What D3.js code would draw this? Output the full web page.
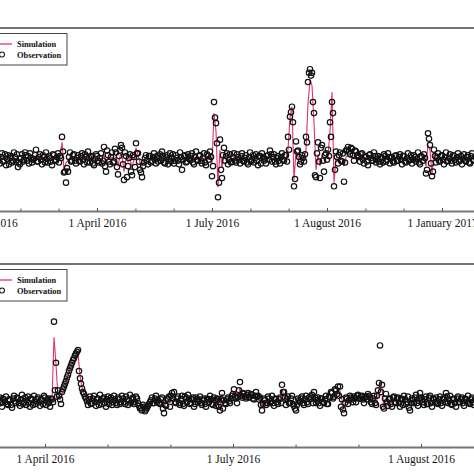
<!DOCTYPE html>
<html><head><meta charset="utf-8">
<script src="https://cdn.jsdelivr.net/npm/d3@7"></script>
<style>html,body{margin:0;padding:0;background:#fff;overflow:hidden}</style>
</head><body><svg id="c" width="474" height="474"></svg>
<script>
// ---- data (time index 0..239; "b" arrays are the half-step readings) ----
const obs1 = [
 3,-5,6,-2,-7,4,1,-4,7,-3,-9,-6,5,-1,4,3,6,-4,0,10,
 -3,5,-6,2,7,-4,1,-7,4,-2,6,3,24,-15,-26,-14,7,-2,5,-5,
 4,-3,6,-6,2,8,-4,3,-7,5,-2,1,-5,13,-14,4,-6,7,-3,7,
 -17,9,12,-23,3,-8,5,-18,2,17,6,-12,-20,-4,4,-6,3,-2,6,-5,
 -3,5,8,-4,2,-6,6,1,-5,4,-2,7,-12,3,-4,5,-1,6,-6,8,
 -2,4,-5,6,-7,3,8,-19,62,39,-42,21,-21,12,3,-6,5,-3,6,-4,
 2,-5,6,-3,4,-6,7,-1,-4,5,-7,3,6,-2,-5,4,9,-3,5,-6,
 3,-5,6,-2,4,24,46,57,-30,19,9,-6,4,-3,24,84,98,94,50,-20,
 18,-21,15,-14,6,10,40,62,-30,8,-5,7,-3,-25,9,13,5,11,-2,8,
 4,-3,6,-5,2,-7,5,-2,7,-4,3,-6,1,5,-3,6,-5,2,-4,4,
 -2,5,-6,3,-4,6,-1,-5,4,-3,7,-6,2,5,-16,28,15,-19,10,-4,
 6,-3,4,-6,7,-2,5,-5,3,-4,6,-1,-6,5,-3,4,-5,6,-2,3
];
const obs1b = [
 -1,2,-3,5,0,-6,3,-2,2,5,-4,1,-3,7,-2,-5,1,-1,4,-3,
 2,-1,4,-4,0,3,-3,5,-1,2,-4,1,8,-14,-10,2,-3,4,-2,1,
 -2,3,-1,5,-4,1,2,-5,0,3,-4,6,-2,-8,9,-3,2,-4,11,-9,
 3,15,-6,7,-20,1,-14,4,-9,6,-3,-15,-8,1,-2,3,-4,2,-1,3,
 1,-2,3,-5,4,0,-3,5,-2,1,-6,2,-1,4,-3,0,3,-4,2,-1,
 3,-2,1,-4,5,-1,2,-8,45,17,-26,-12,4,-2,6,-1,-4,2,-2,5,
 -1,3,-2,1,-4,2,-3,4,1,-2,3,-5,2,0,3,-1,5,2,-3,1,
 -2,2,-1,4,-3,10,51,40,-22,8,2,-3,1,5,18,94,91,62,-18,6,
 -3,12,-2,4,-1,3,24,50,-12,2,4,-2,6,-4,10,8,12,4,9,3,
 2,5,-1,3,-3,4,1,-2,3,0,-3,2,-4,3,-1,2,1,-3,3,-2,
 2,-1,3,-3,1,-2,4,-1,2,0,-4,3,-2,1,-12,22,-5,-14,3,1,
 -2,3,-1,2,-3,1,-2,4,-1,2,-3,3,0,-2,2,-4,3,-1,2,-2
];
const sim1 = [
 1,0,1,-1,-1,0,1,0,1,-1,-2,-1,0,0,1,1,1,0,0,2,
 1,0,-1,0,1,0,0,-1,0,0,1,2,18,-12,-4,-2,2,0,1,0,
 0,0,1,-1,0,2,0,1,-1,0,0,0,-1,5,-6,0,-1,2,0,2,
 -8,3,5,-14,0,-3,1,-10,0,12,4,-5,-8,-1,0,-1,0,0,1,0,
 0,1,2,0,0,-1,1,0,-1,0,0,1,-4,0,0,1,0,1,-1,1,
 0,0,-1,1,-1,0,2,-5,50,30,-31,10,-10,4,1,-1,0,0,1,0,
 0,-1,1,0,0,-1,1,0,0,1,-1,0,1,0,-1,0,3,0,0,-1,
 0,-1,1,0,1,10,45,57,-23,8,2,-1,0,0,10,60,86,80,40,-12,
 5,-8,4,0,1,3,30,73,-26,0,-1,1,0,-8,2,4,2,3,0,2,
 1,0,1,-1,0,-1,1,0,1,-1,0,-1,0,1,0,1,-1,0,-1,1,
 0,1,-1,0,-1,1,0,-1,1,0,1,-1,0,1,-8,15,10,-17,5,0,
 1,0,1,-1,1,0,1,-1,0,-1,1,0,-1,1,0,1,-1,1,0,0
];
const obs2 = [
 -3,4,-6,2,5,-4,1,-7,6,-2,3,-5,7,-1,-4,5,-6,2,6,-3,
 4,-5,1,6,-4,3,-6,2,87,42,12,2,10,16,22,29,36,42,47,52,
 56,25,14,8,3,-4,5,-2,6,-5,3,7,-3,4,-6,5,1,-4,6,-2,
 4,-3,6,-1,5,-4,7,2,-3,5,-2,-8,-10,-6,-9,-5,-1,4,-2,6,
 1,-3,4,-13,-5,2,-6,9,10,-2,5,-4,6,-5,3,7,-3,2,-6,4,
 -1,5,-4,3,-6,2,6,-3,4,-5,2,-10,9,1,-3,4,-2,6,13,3,
 5,21,4,8,3,9,5,7,2,10,6,4,-10,3,-4,5,-2,6,-5,2,
 -3,4,18,10,-4,5,-2,6,-5,-10,3,-1,5,-4,6,-3,2,7,10,-2,
 4,-5,3,-2,6,-3,4,9,5,12,16,16,2,-13,4,-3,6,2,5,-1,
 7,3,6,-2,5,8,4,-3,6,-4,12,61,18,-8,8,-5,3,-6,5,-2,
 4,-6,2,6,-3,5,-10,3,-2,7,-5,9,2,-4,5,-3,6,-6,2,4,
 -3,5,-5,2,9,-2,6,-4,3,-6,5,-1,4,-5,2,6,-3,4,-4,1
];
const obs2b = [
 1,-2,3,-1,-3,2,-4,3,0,4,-2,2,-3,4,1,-2,3,-4,0,2,
 -1,2,-3,4,0,-2,3,-1,12,5,6,-3,13,19,26,33,39,45,50,54,
 33,19,10,5,0,2,-3,3,-1,2,-4,1,3,-2,2,-3,4,-1,2,-4,
 2,-1,3,-3,2,1,-2,4,-1,3,-5,-7,-4,-11,-7,-3,1,-2,3,-1,
 -2,2,-8,-4,3,5,6,3,-1,3,-2,2,-3,5,-1,3,-2,4,-3,2,
 2,-2,1,-3,3,-1,2,-4,1,3,-6,2,-8,-2,2,0,3,8,5,-2,
 12,6,9,5,7,4,8,3,6,5,2,-4,-3,1,-2,3,0,-2,3,-1,
 2,-2,10,4,2,-2,3,-3,-8,-4,1,3,-2,2,-1,4,5,-2,4,1,
 -2,3,-1,2,-3,5,10,3,13,8,6,-6,-9,-2,3,1,4,-1,3,6,
 3,5,2,4,2,6,-1,3,-2,6,20,10,-6,3,-1,2,-3,4,-1,3,
 -2,3,-4,2,-1,-7,-2,1,4,-2,3,4,-1,2,-3,4,-2,3,-1,-2,
 2,-2,3,-1,5,2,-3,2,-2,3,-1,2,-2,3,-1,-2,2,-1,3,-1
];
const sim2 = [
 0,1,-1,0,1,-1,0,-1,1,0,1,-1,1,0,-1,1,-1,0,1,0,
 1,-1,0,1,-1,0,-1,0,70,40,5,2,8,14,21,28,35,41,46,50,
 53,28,15,8,3,0,1,0,1,-1,0,1,0,1,-1,1,0,-1,1,0,
 1,0,1,0,1,-1,1,0,0,1,-1,-4,-6,-5,-6,-4,-1,1,0,1,
 0,-1,1,-6,-2,0,-1,4,5,0,1,-1,1,-1,0,1,0,0,-1,1,
 0,1,-1,0,-1,0,1,0,1,-1,0,-9,8,0,-1,1,0,1,11,2,
 2,15,3,5,3,6,4,5,3,6,4,3,-5,1,-1,1,0,1,-1,0,
 -1,1,13,6,-1,1,0,1,-2,-5,1,0,1,-1,1,0,1,3,5,0,
 1,-1,1,0,1,-1,2,6,4,9,12,11,1,-8,1,0,1,1,2,0,
 2,1,2,0,1,3,1,-1,2,-1,5,23,14,-8,2,-1,0,-1,1,0,
 1,-1,0,1,-1,1,-5,1,0,2,-1,4,1,-1,1,0,1,-1,0,1,
 -1,1,-1,0,9,0,1,-1,1,-1,1,0,1,-1,0,1,-1,1,-1,0
];
const ticks1Major = [-8, 49.5, 107, 164.5, 222];
const labels1 = ["1 January 2016", "1 April 2016", "1 July 2016", "1 August 2016", "1 January 2017"];
const ticks1Minor = [11.2, 30.3, 68.7, 87.8, 126.2, 145.3, 183.7, 202.8];
const ticks2Major = [23.5, 117.5, 211.5];
const labels2 = ["1 April 2016", "1 July 2016", "1 August 2016"];
const ticks2Minor = [-7.8, 54.8, 86.2, 148.8, 180.2];
const legendLabels = ["Simulation", "Observation"];

// ---- drawing ----
const svg = d3.select("#c");
const W = 474;
const RED = "#e3336a";
const FONT = "'Liberation Serif','Times New Roman',serif";

function panel(cfg) {
  const x = d3.scaleLinear().domain([0, 240]).range([-2, 478]);
  const y = d3.scaleLinear().domain(cfg.yDomain).range([cfg.bottom, cfg.top]);
  const g = svg.append("g");

  g.append("line").attr("x1", 0).attr("x2", W).attr("y1", cfg.top).attr("y2", cfg.top)
    .attr("stroke", "#6f7672").attr("stroke-width", 2);

  const line = d3.line().x((d, i) => x(i)).y(d => y(d));
  g.append("path").datum(cfg.sim).attr("d", line)
    .attr("fill", "none").attr("stroke", RED).attr("stroke-width", 1.1);

  const pts = cfg.obs.map((v, i) => ({ t: i, v }))
    .concat(cfg.obsB.map((v, i) => ({ t: i + 0.5, v })));
  g.append("g").selectAll("circle").data(pts).join("circle")
    .attr("cx", d => x(d.t)).attr("cy", d => y(d.v)).attr("r", 2.7)
    .attr("fill", "none").attr("stroke", "#121212").attr("stroke-width", 1.2);

  const ax = g.append("g").attr("transform", `translate(0,${cfg.bottom})`)
    .call(d3.axisBottom(x).tickValues(cfg.major).tickSizeInner(-3).tickSizeOuter(0)
      .tickPadding(8).tickFormat((d, i) => cfg.labels[i]));
  ax.select(".domain").attr("stroke", "#777").attr("stroke-width", 2);
  ax.selectAll(".tick line").attr("stroke", "#555");
  ax.selectAll(".tick text").attr("font-family", FONT).attr("font-size", 11.5).attr("fill", "#141414");

  const mx = g.append("g").attr("transform", `translate(0,${cfg.bottom})`)
    .call(d3.axisBottom(x).tickValues(cfg.minor).tickSizeInner(-2.5).tickSizeOuter(0).tickFormat(""));
  mx.select(".domain").remove();
  mx.selectAll(".tick line").attr("stroke", "#555");

  const lg = g.append("g");
  lg.append("rect").attr("x", -3).attr("y", cfg.legTop).attr("width", 70).attr("height", 31.5)
    .attr("fill", "#fff").attr("stroke", "#444").attr("stroke-width", 1);
  lg.append("line").attr("x1", -4).attr("x2", 12).attr("y1", cfg.legTop + 10.5).attr("y2", cfg.legTop + 10.5)
    .attr("stroke", RED).attr("stroke-width", 1.3);
  lg.append("circle").attr("cx", 2).attr("cy", cfg.legTop + 21).attr("r", 2.5)
    .attr("fill", "none").attr("stroke", "#161616").attr("stroke-width", 1.1);
  lg.selectAll("text").data(legendLabels).join("text")
    .attr("x", 17).attr("y", (d, i) => cfg.legTop + 13.5 + i * 10.5)
    .attr("font-family", FONT).attr("font-weight", "bold").attr("font-size", 8.4)
    .attr("fill", "#111").text(d => d);
}

panel({ obs: obs1, obsB: obs1b, sim: sim1, yDomain: [-57, 143], top: 28, bottom: 211, legTop: 33.5,
  major: ticks1Major, minor: ticks1Minor, labels: labels1 });
panel({ obs: obs2, obsB: obs2b, sim: sim2, yDomain: [-50, 150], top: 264, bottom: 447, legTop: 269.5,
  major: ticks2Major, minor: ticks2Minor, labels: labels2 });
</script>
</body></html>
